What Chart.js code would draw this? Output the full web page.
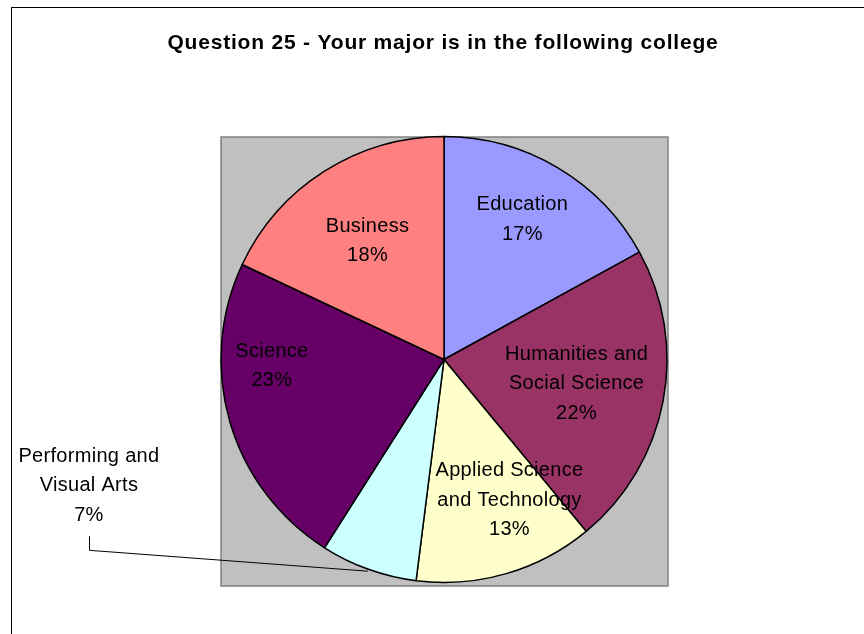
<!DOCTYPE html>
<html>
<head>
<meta charset="utf-8">
<script src="https://cdn.jsdelivr.net/npm/chart.js@4/dist/chart.umd.min.js"></script>
<style>
  html, body { margin: 0; padding: 0; background: #ffffff; }
  #wrap { width: 864px; height: 634px; position: relative; }
  canvas { display: block; }
</style>
</head>
<body>
<div id="wrap"><canvas id="c" width="864" height="634"></canvas></div>
<script>
// ---- data ----
const chartTitle = 'Question 25 - Your major is in the following college';
const categories = ['Education', 'Humanities and Social Science', 'Applied Science and Technology', 'Performing and Visual Arts', 'Science', 'Business'];
const labelLines = [['Education'], ['Humanities and', 'Social Science'], ['Applied Science', 'and Technology'], ['Performing and', 'Visual Arts'], ['Science'], ['Business']];
const percentages = [17, 22, 13, 7, 23, 18];
const sliceColors = ['#9999FF', '#993366', '#FFFFCC', '#CCFFFF', '#660066', '#FF8080'];

// label placement: [distance from centre in radii, angle clockwise from 12 o'clock in degrees]
const labelPlacement = [[0.727, 28.9], [0.603, 99.6], [0.687, 154.7], [1.687, 250.7], [0.772, 268.5], [0.64, 327.6]];
const leaderLabels = [false, false, false, true, false, false];

const FONT = '"Liberation Sans", Arial, "DejaVu Sans", sans-serif';

const decorPlugin = {
  id: 'decor',
  beforeDraw(chart) {
    const ctx = chart.ctx;
    ctx.save();
    ctx.fillStyle = '#ffffff';
    ctx.fillRect(0, 0, chart.width, chart.height);
    // outer chart border (extends beyond the window)
    ctx.strokeStyle = '#000000';
    ctx.lineWidth = 1;
    ctx.strokeRect(11.5, 7.5, 1000, 1000);
    // plot area
    const a = chart.chartArea;
    ctx.fillStyle = '#C0C0C0';
    ctx.fillRect(a.left, a.top + 0.5, a.right - a.left + 1, a.bottom - a.top + 3);
    ctx.strokeStyle = '#808080';
    ctx.lineWidth = 1.5;
    ctx.strokeRect(a.left, a.top + 0.5, a.right - a.left + 1, a.bottom - a.top + 3);
    // title
    ctx.fillStyle = '#000000';
    ctx.font = 'bold 21px ' + FONT;
    ctx.textAlign = 'center';
    ctx.textBaseline = 'middle';
    if ('letterSpacing' in ctx) ctx.letterSpacing = '0.8px';
    ctx.fillText(chartTitle, 443, 43);
    ctx.restore();
  },
  afterDatasetsDraw(chart) {
    const ctx = chart.ctx;
    const meta = chart.getDatasetMeta(0);
    ctx.save();
    ctx.fillStyle = '#000000';
    ctx.font = '20px ' + FONT;
    ctx.textAlign = 'center';
    ctx.textBaseline = 'middle';
    if ('letterSpacing' in ctx) ctx.letterSpacing = '0.3px';
    const lineH = 29.5;
    meta.data.forEach((arc, i) => {
      const p = arc.getProps(['x', 'y', 'outerRadius', 'startAngle', 'endAngle'], true);
      const [f, deg] = labelPlacement[i];
      const th = (deg - 90) * Math.PI / 180;
      const lx = p.x + Math.cos(th) * f * p.outerRadius;
      const ly = p.y + Math.sin(th) * f * p.outerRadius + 2;
      const lines = labelLines[i].concat([percentages[i] + '%']);
      const top = ly - (lines.length - 1) * lineH / 2;
      lines.forEach((t, k) => ctx.fillText(t, lx, top + k * lineH));
      if (leaderLabels[i]) {
        const mid = (p.startAngle + p.endAngle) / 2;
        const ex = p.x + Math.cos(mid) * (p.outerRadius + 2);
        const ey = p.y + Math.sin(mid) * (p.outerRadius + 2);
        const sy = top + (lines.length - 1) * lineH + 21;
        ctx.save();
        ctx.letterSpacing = '0px';
        ctx.strokeStyle = '#000000';
        ctx.lineWidth = 1;
        ctx.beginPath();
        ctx.moveTo(Math.round(lx) + 0.5, sy);
        ctx.lineTo(Math.round(lx) + 0.5, sy + 14);
        ctx.lineTo(ex, ey);
        ctx.stroke();
        ctx.restore();
      }
    });
    ctx.restore();
  }
};

new Chart(document.getElementById('c'), {
  type: 'pie',
  data: {
    labels: categories,
    datasets: [{
      data: percentages,
      backgroundColor: sliceColors,
      borderColor: '#000000',
      borderWidth: 1.5,
      radius: 223
    }]
  },
  options: {
    responsive: false,
    animation: false,
    events: [],
    layout: { padding: { left: 221, right: 197, top: 136.5, bottom: 51.5 } },
    plugins: {
      legend: { display: false },
      title: { display: false },
      tooltip: { enabled: false }
    }
  },
  plugins: [decorPlugin]
});
</script>
</body>
</html>
